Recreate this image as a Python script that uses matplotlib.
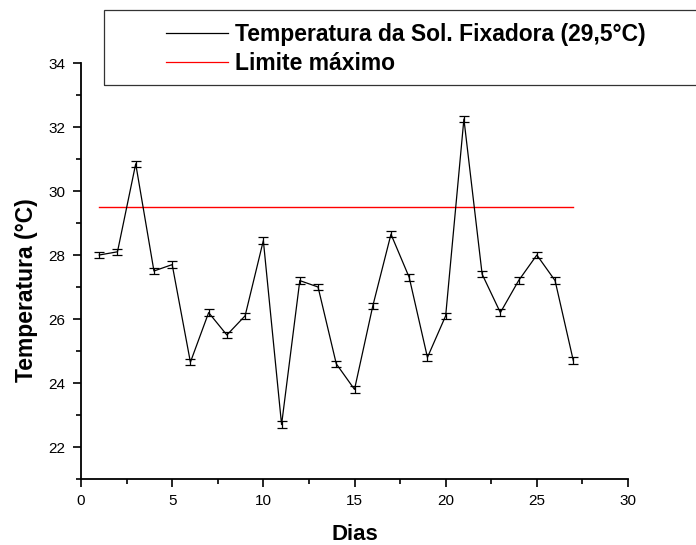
import matplotlib
matplotlib.use("Agg")
import matplotlib.pyplot as plt
from matplotlib.lines import Line2D
from matplotlib.patches import Rectangle
from matplotlib.ticker import MultipleLocator

plt.rcParams["font.family"] = ["Liberation Sans", "DejaVu Sans"]

dias = list(range(1, 28))
temperatura = [28.0, 28.1, 30.85, 27.5, 27.7, 24.65, 26.2, 25.5, 26.1, 28.45,
               22.7, 27.2, 27.0, 24.6, 23.8, 26.4, 28.65, 27.3, 24.8, 26.1,
               32.25, 27.4, 26.2, 27.2, 28.0, 27.2, 24.7]
erro = [0.1] * len(dias)
limite = 29.5
limite_x = [1, 27]

label_temp = "Temperatura da Sol. Fixadora (29,5°C)"
label_lim = "Limite máximo"

fig = plt.figure(figsize=(6.96, 5.45), dpi=100)
ax = fig.add_axes([0.1164, 0.1211, 0.7859, 0.7633])

ax.errorbar(dias, temperatura, yerr=erro, color="black", lw=0.9,
            elinewidth=0.9, capsize=3.5, capthick=0.9)
ax.plot(limite_x, [limite, limite], color="#ff0000", lw=1.0)

ax.set_xlim(0, 30)
ax.set_ylim(21, 34)
ax.xaxis.set_major_locator(MultipleLocator(5))
ax.xaxis.set_minor_locator(MultipleLocator(2.5))
ax.yaxis.set_major_locator(MultipleLocator(2))
ax.yaxis.set_minor_locator(MultipleLocator(1))

for side in ("top", "right"):
    ax.spines[side].set_visible(False)
for side in ("left", "bottom"):
    ax.spines[side].set_linewidth(1.3)

ax.tick_params(which="major", direction="out", length=6, width=1.2,
               labelsize=11, pad=5)
ax.tick_params(which="minor", direction="out", length=3.5, width=1.2)

ax.set_xlabel("Dias", fontsize=16, fontweight="bold")
ax.set_ylabel("Temperatura (°C)", fontsize=16.5, fontweight="bold")
ax.xaxis.set_label_coords(0.5, -0.108)
ax.yaxis.set_label_coords(-0.079, 0.454)

# legend box runs off the right edge of the figure
fig.add_artist(Rectangle((104 / 696, 1 - 85 / 545), 700 / 696, 75 / 545,
                         transform=fig.transFigure, fill=False,
                         edgecolor="#333333", lw=0.9))
handles = [Line2D([], [], color="black", lw=0.9),
           Line2D([], [], color="#ff0000", lw=0.9)]
fig.legend(handles, [label_temp, label_lim], loc="upper left",
           bbox_to_anchor=(0.222, 0.978), frameon=False,
           prop={"weight": "bold", "size": 16.5}, handlelength=2.7,
           handletextpad=0.3, labelspacing=0.25, borderpad=0)

fig.savefig("out.png", dpi=100)
